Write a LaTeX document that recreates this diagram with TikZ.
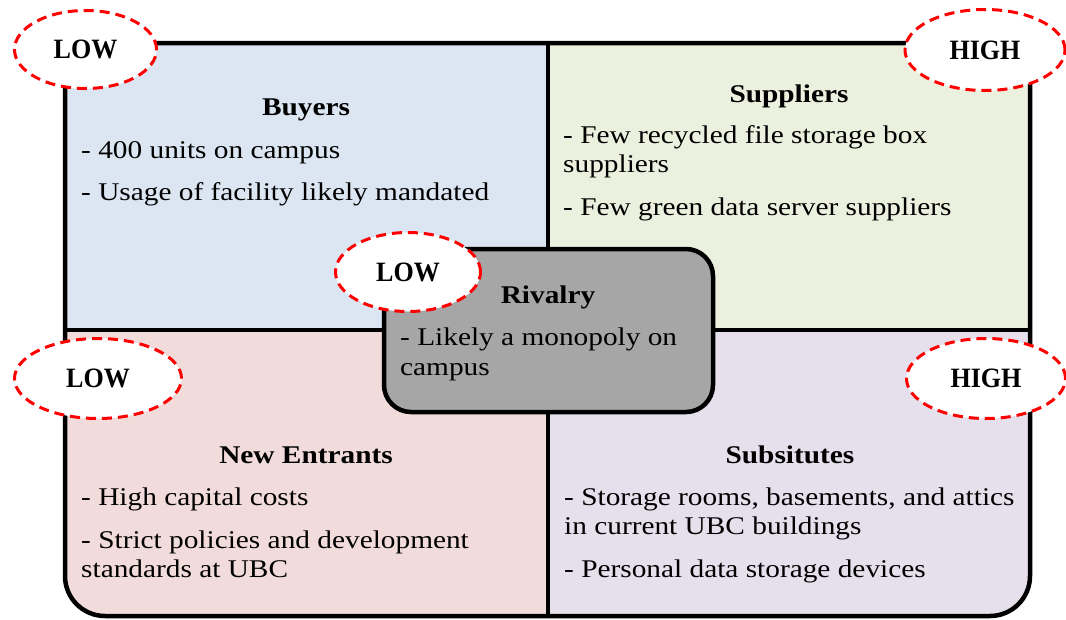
\documentclass[tikz,border=0pt]{standalone}
\usepackage{fontspec}
\setmainfont{Liberation Serif}
\newfontfamily\bodyfont[FakeStretch=1.15]{Liberation Serif}
\newfontfamily\ovalfont[FakeStretch=0.93]{Liberation Serif}
\usetikzlibrary{shapes.geometric}
\definecolor{buyc}{HTML}{DCE6F2}
\definecolor{supc}{HTML}{EBF1DE}
\definecolor{entc}{HTML}{F2DCDB}
\definecolor{subc}{HTML}{E5E0EC}
\definecolor{rivc}{HTML}{A6A6A6}
\begin{document}
\begin{tikzpicture}[x=1pt,y=-1pt,
  body/.style={font=\bodyfont\fontsize{25.5}{29}\selectfont, inner sep=0pt, anchor=base west},
  head/.style={font=\bodyfont\fontsize{25.5}{29}\selectfont\bfseries, inner sep=0pt, anchor=base},
  rating/.style={ellipse, draw=red, fill=white, line width=3pt, dash pattern=on 10pt off 6pt,
    inner sep=0pt, font=\ovalfont\fontsize{28}{30}\selectfont\bfseries},
  frame/.style={draw=black, line width=4.5pt},
  divider/.style={draw=black, line width=3.5pt}]
\useasboundingbox (0,0) rectangle (1066,619);
\clip (0,0) rectangle (1066,619);
% quadrant fills
\begin{scope}
  \clip[rounded corners=40pt] (65,43) rectangle (1030,616);
  \fill[buyc] (0,0) rectangle (548,330);
  \fill[supc] (548,0) rectangle (1066,330);
  \fill[entc] (0,330) rectangle (548,619);
  \fill[subc] (548,330) rectangle (1066,619);
\end{scope}
\coordinate (vt) at (548,43);
\coordinate (vb) at (548,616);
\coordinate (hl) at (65,330);
\coordinate (hr) at (1030,330);
\draw[divider] (vt) -- (vb);
\draw[divider] (hl) -- (hr);
\draw[frame, rounded corners=40pt] (65,43) rectangle (1030,616);
% rivalry box
\node[draw=black, line width=4.5pt, fill=rivc, rounded corners=27pt, inner sep=0pt,
  minimum width=329pt, minimum height=163pt] (riv) at (548.5,330.5) {};
% texts
\node[head] (hbuy) at (306,115) {Buyers};
\node[body] (b1) at (81,158) {- 400 units on campus};
\node[body] (b2) at (81,200) {- Usage of facility likely mandated};
\node[head] (hsup) at (789,102) {Suppliers};
\node[body] (s1) at (563,143) {- Few recycled file storage box};
\node[body] (s1b) at (563,172) {suppliers};
\node[body] (s2) at (563,215) {- Few green data server suppliers};
\node[head] (hent) at (306,463) {New Entrants};
\node[body] (e1) at (81,505) {- High capital costs};
\node[body] (e2) at (81,548) {- Strict policies and development};
\node[body] (e2b) at (81,577) {standards at UBC};
\node[head] (hsub) at (790,463) {Subsitutes};
\node[body] (u1) at (564,505) {- Storage rooms, basements, and attics};
\node[body] (u1b) at (564,534) {in current UBC buildings};
\node[body] (u2) at (564,577) {- Personal data storage devices};
\node[head] (hriv) at (548,303) {Rivalry};
\node[body] (r1) at (400,345) {- Likely a monopoly on};
\node[body] (r1b) at (400,375) {campus};
% ratings
\node[rating, minimum width=142pt, minimum height=78pt] (rbuy) at (85.5,49.5) {LOW};
\node[rating, minimum width=160pt, minimum height=81pt] (rsup) at (985,50) {HIGH};
\node[rating, minimum width=145pt, minimum height=79pt] (rriv) at (408,272) {LOW};
\node[rating, minimum width=167pt, minimum height=80pt] (rent) at (98,378.5) {LOW};
\node[rating, minimum width=159pt, minimum height=80pt] (rsub) at (986,378.5) {HIGH};
\end{tikzpicture}
\end{document}
